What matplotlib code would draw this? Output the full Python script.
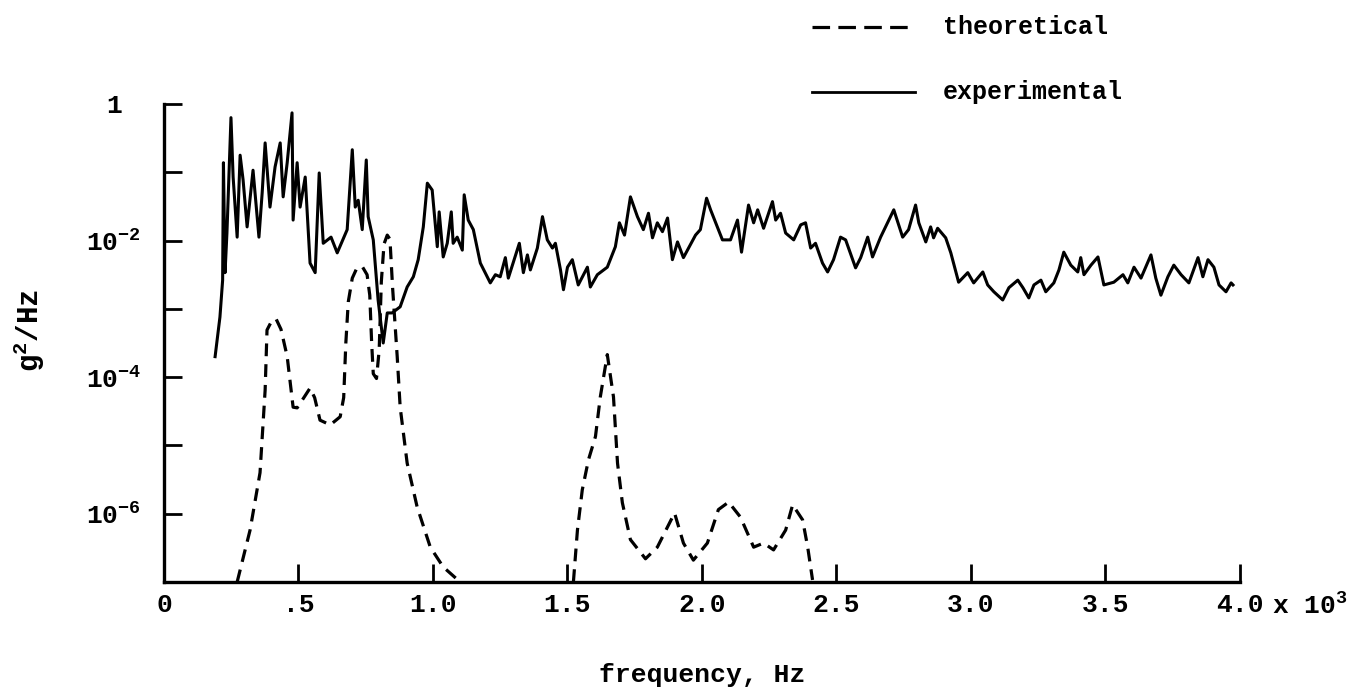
import matplotlib.pyplot as plt
import numpy as np
from matplotlib.lines import Line2D

plt.rcParams['font.family'] = ['Liberation Mono', 'DejaVu Sans Mono']
plt.rcParams['font.weight'] = 'bold'
plt.rcParams['axes.labelweight'] = 'bold'
plt.rcParams['mathtext.fontset'] = 'custom'
plt.rcParams['mathtext.rm'] = 'Liberation Mono:bold'
plt.rcParams['mathtext.it'] = 'Liberation Mono:bold'
plt.rcParams['mathtext.bf'] = 'Liberation Mono:bold'

# experimental spectrum: frequency (Hz), log10 of g^2/Hz
exp_freq = [190, 208, 218, 221, 227, 234, 249, 257, 272, 283, 294, 309, 331, 353,
            365, 376, 394, 413, 432, 443, 458, 476, 480, 495, 506, 525, 543, 562,
            577, 592, 621, 644, 681, 700, 711, 722, 737, 752, 759, 778, 796, 815,
            830, 848, 878, 904, 927, 945, 964, 979, 997, 1016, 1023, 1038, 1053,
            1068, 1075, 1090, 1109, 1116, 1131, 1150, 1176, 1213, 1232, 1250, 1269,
            1280, 1321, 1336, 1351, 1362, 1388, 1407, 1425, 1444, 1455, 1474, 1485,
            1500, 1518, 1540, 1574, 1585, 1611, 1648, 1678, 1693, 1712, 1734, 1760,
            1782, 1801, 1816, 1834, 1853, 1872, 1890, 1909, 1931, 1976, 1994, 2017,
            2032, 2076, 2106, 2132, 2147, 2173, 2192, 2207, 2229, 2262, 2274, 2292,
            2311, 2341, 2367, 2385, 2404, 2422, 2448, 2467, 2489, 2515, 2534, 2571,
            2590, 2616, 2634, 2664, 2713, 2746, 2768, 2794, 2806, 2832, 2850, 2861,
            2876, 2906, 2925, 2954, 2988, 3010, 3044, 3062, 3085, 3118, 3141, 3174,
            3193, 3215, 3234, 3260, 3278, 3308, 3327, 3345, 3371, 3397, 3408, 3420,
            3446, 3472, 3494, 3531, 3565, 3583, 3606, 3632, 3669, 3687, 3706, 3732,
            3754, 3781, 3810, 3844, 3862, 3881, 3903, 3922, 3948, 3967, 3974]
exp_log = [-3.70, -3.12, -2.58, -0.86, -2.47, -1.89, -0.20, -1.07, -1.95, -0.75,
           -1.11, -1.80, -0.97, -1.95, -1.30, -0.57, -1.51, -0.92, -0.57, -1.36,
           -0.86, -0.13, -1.70, -0.86, -1.51, -1.07, -2.33, -2.47, -1.01, -2.04,
           -1.95, -2.18, -1.84, -0.67, -1.51, -1.41, -1.84, -0.82, -1.65, -1.99,
           -2.87, -3.50, -3.06, -3.06, -2.97, -2.68, -2.53, -2.28, -1.80, -1.16,
           -1.26, -2.09, -1.58, -2.24, -2.04, -1.58, -2.04, -1.95, -2.14, -1.33,
           -1.70, -1.84, -2.33, -2.62, -2.50, -2.53, -2.25, -2.55, -2.04, -2.47,
           -2.21, -2.43, -2.11, -1.65, -1.99, -2.11, -2.04, -2.43, -2.72, -2.39,
           -2.28, -2.65, -2.39, -2.68, -2.50, -2.39, -2.09, -1.74, -1.92, -1.36,
           -1.65, -1.84, -1.60, -1.96, -1.74, -1.87, -1.67, -2.28, -2.02, -2.25,
           -1.92, -1.84, -1.38, -1.55, -1.99, -1.99, -1.70, -2.17, -1.48, -1.74,
           -1.55, -1.82, -1.43, -1.70, -1.60, -1.89, -1.99, -1.77, -1.74, -2.11,
           -2.04, -2.33, -2.46, -2.28, -1.95, -1.99, -2.40, -2.25, -1.95, -2.24,
           -1.95, -1.55, -1.95, -1.84, -1.48, -1.74, -2.02, -1.80, -1.96, -1.82,
           -1.96, -2.18, -2.61, -2.47, -2.62, -2.46, -2.65, -2.75, -2.87, -2.69,
           -2.58, -2.69, -2.84, -2.65, -2.58, -2.75, -2.62, -2.43, -2.17, -2.36,
           -2.46, -2.25, -2.50, -2.36, -2.24, -2.65, -2.61, -2.50, -2.62, -2.39,
           -2.55, -2.21, -2.55, -2.80, -2.53, -2.36, -2.50, -2.62, -2.25, -2.53,
           -2.28, -2.39, -2.65, -2.75, -2.62, -2.65]

# theoretical spectrum, two separate branches
th1_freq = [272, 320, 357, 376, 383, 400, 417, 435, 458, 480, 495, 520, 543, 560,
            580, 618, 655, 668, 676, 685, 700, 715, 737, 755, 765, 772, 778, 790,
            800, 808, 818, 830, 840, 850, 867, 878, 904, 941, 990, 1038, 1101]
th1_log = [-7.0, -6.24, -5.40, -4.19, -3.31, -3.18, -3.15, -3.30, -3.70, -4.44,
           -4.45, -4.30, -4.16, -4.30, -4.63, -4.70, -4.58, -4.30, -3.50, -2.90,
           -2.55, -2.42, -2.38, -2.50, -2.80, -3.50, -3.95, -4.02, -3.60, -2.60,
           -2.05, -1.92, -1.98, -2.70, -3.70, -4.44, -5.26, -5.90, -6.49, -6.78,
           -7.0]
th2_freq = [1522, 1537, 1555, 1578, 1604, 1622, 1648, 1671, 1686, 1704, 1734, 1790,
            1834, 1898, 1931, 1968, 2020, 2061, 2099, 2143, 2192, 2229, 2266, 2311,
            2337, 2374, 2393, 2411]
th2_log = [-7.0, -6.24, -5.65, -5.21, -4.87, -4.29, -3.67, -4.29, -5.26, -5.84,
           -6.38, -6.66, -6.49, -5.99, -6.43, -6.68, -6.43, -5.94, -5.83, -6.05,
           -6.49, -6.43, -6.53, -6.24, -5.87, -6.09, -6.49, -6.97]

x_ticks = [0, 500, 1000, 1500, 2000, 2500, 3000, 3500, 4000]
x_labels = ['0', '.5', '1.0', '1.5', '2.0', '2.5', '3.0', '3.5', '4.0']
y_ticks = [1e-7, 1e-6, 1e-5, 1e-4, 1e-3, 1e-2, 1e-1, 1]
y_labels = ['', '10$^{-6}$', '', '10$^{-4}$', '', '10$^{-2}$', '', '1']

fig = plt.figure(figsize=(13.7, 6.96), dpi=100)
ax = fig.add_axes([0.1197, 0.1638, 0.7854, 0.6868])

ax.plot(exp_freq, 10 ** np.array(exp_log), color='black', lw=2.2)
ax.plot(th1_freq, 10 ** np.array(th1_log), color='black', lw=2.3, ls=(0, (4, 2.5)))
ax.plot(th2_freq, 10 ** np.array(th2_log), color='black', lw=2.3, ls=(0, (4, 2.5)))

ax.set_yscale('log')
ax.set_xlim(0, 4000)
ax.set_ylim(1e-7, 1)
ax.set_xticks(x_ticks)
ax.set_xticklabels(x_labels)
ax.set_yticks(y_ticks)
ax.set_yticklabels(y_labels, ha='center')
ax.minorticks_off()

for s in ['top', 'right']:
    ax.spines[s].set_visible(False)
for s in ['left', 'bottom']:
    ax.spines[s].set_linewidth(2.4)

ax.tick_params(axis='both', direction='in', length=13, width=2, labelsize=19)
ax.tick_params(axis='y', pad=36)
ax.tick_params(axis='x', pad=8)

ax.text(1.030, -0.050, 'x 10$^3$', transform=ax.transAxes, fontsize=19,
        ha='left', va='center')

ax.set_xlabel('frequency, Hz', fontsize=19)
ax.xaxis.set_label_coords(0.5, -0.170)
ax.set_ylabel('g$^2$/Hz', fontsize=21)
ax.yaxis.set_label_coords(-0.109, 0.527)

# legend drawn by hand at the top right
fig.add_artist(Line2D([812 / 1370, 915 / 1370], [1 - 27 / 696, 1 - 27 / 696],
                      color='black', lw=2.3, ls=(0, (5.5, 2.6))))
fig.add_artist(Line2D([812 / 1370, 915 / 1370], [1 - 92 / 696, 1 - 92 / 696],
                      color='black', lw=2.0))
fig.text(943 / 1370, 1 - 27 / 696, 'theoretical', fontsize=18, va='center')
fig.text(943 / 1370, 1 - 92 / 696, 'experimental', fontsize=18, va='center')

plt.savefig('out.png', dpi=100)
